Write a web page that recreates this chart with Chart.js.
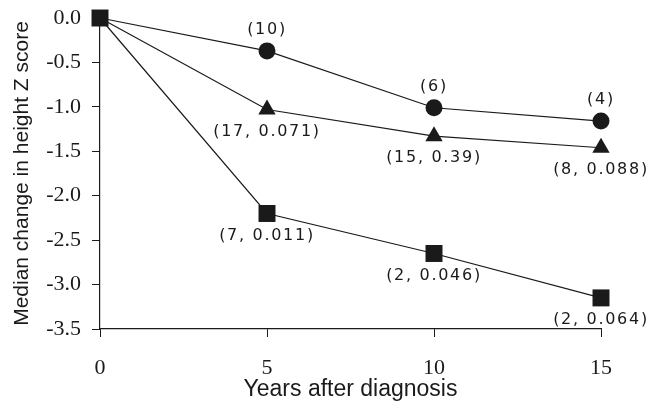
<!DOCTYPE html>
<html>
<head>
<meta charset="utf-8">
<script src="https://cdn.jsdelivr.net/npm/chart.js@4/dist/chart.umd.min.js"></script>
<style>
  html, body { margin: 0; padding: 0; background: #fff; }
  #wrap { width: 664px; height: 402px; }
</style>
</head>
<body>
<div id="wrap"><canvas id="c" width="664" height="402"></canvas></div>
<script>
// ---- data ----
const years = [0, 5, 10, 15];
const circleValues   = [0, -0.37, -1.01, -1.16];
const triangleValues = [0, -1.03, -1.33, -1.46];
const squareValues   = [0, -2.20, -2.65, -3.15];
const circleLabels   = ['', '(10)', '(6)', '(4)'];
const triangleLabels = ['', '(17, 0.071)', '(15, 0.39)', '(8, 0.088)'];
const squareLabels   = ['', '(7, 0.011)', '(2, 0.046)', '(2, 0.064)'];
const xTicks = [0, 5, 10, 15];
const yTicks = [0, -0.5, -1, -1.5, -2, -2.5, -3, -3.5];
const yTickLabels = ['0.0', '-0.5', '-1.0', '-1.5', '-2.0', '-2.5', '-3.0', '-3.5'];
const xTitle = 'Years after diagnosis';
const yTitle = 'Median change in height Z score';

const toPoints = vals => years.map((x, i) => ({ x: x, y: vals[i] }));

const pointLabelPlugin = {
  id: 'pointLabels',
  afterDatasetsDraw(chart) {
    const ctx = chart.ctx;
    ctx.save();
    ctx.font = '16px "DejaVu Sans"';
    ctx.fillStyle = '#1a1a1a';
    ctx.textAlign = 'center';
    ctx.textBaseline = 'middle';
    if ('letterSpacing' in ctx) ctx.letterSpacing = '1.7px';
    chart.data.datasets.forEach((ds, di) => {
      const meta = chart.getDatasetMeta(di);
      (ds.pointLabels || []).forEach((txt, i) => {
        if (!txt) return;
        const el = meta.data[i];
        ctx.fillText(txt, el.x, el.y + ds.labelOffset);
      });
    });
    ctx.restore();
  }
};

const common = {
  borderColor: '#1a1a1a',
  backgroundColor: '#1a1a1a',
  pointBackgroundColor: '#1a1a1a',
  pointBorderColor: '#1a1a1a',
  borderWidth: 1.2,
  pointBorderWidth: 0,
  showLine: true,
  fill: false,
  tension: 0,
  clip: false
};

const tickFont = { family: 'Liberation Serif', size: 22 };

new Chart(document.getElementById('c'), {
  type: 'scatter',
  data: {
    datasets: [
      Object.assign({}, common, {
        label: 'circle',
        data: toPoints(circleValues),
        pointStyle: 'circle',
        pointRadius: [0, 8.5, 8.5, 8.5],
        pointLabels: circleLabels,
        labelOffset: -21
      }),
      Object.assign({}, common, {
        label: 'triangle',
        data: toPoints(triangleValues),
        pointStyle: 'triangle',
        pointRadius: [0, 10, 10, 10],
        pointLabels: triangleLabels,
        labelOffset: 22
      }),
      Object.assign({}, common, {
        label: 'square',
        data: toPoints(squareValues),
        pointStyle: 'rect',
        pointRadius: 12,
        pointLabels: squareLabels,
        labelOffset: 22
      })
    ]
  },
  options: {
    responsive: false,
    animation: false,
    devicePixelRatio: 1,
    layout: { padding: { left: 0, top: 18, right: 63, bottom: 0 } },
    plugins: { legend: { display: false }, tooltip: { enabled: false } },
    scales: {
      x: {
        type: 'linear',
        min: 0, max: 15,
        afterBuildTicks: s => { s.ticks = xTicks.map(v => ({ value: v })); },
        afterFit: s => { s.height = 73; s.paddingLeft = 0; s.paddingRight = 0; },
        grid: { drawOnChartArea: false, drawTicks: true, tickLength: 8, color: '#1a1a1a', lineWidth: 1 },
        border: { display: true, color: '#1a1a1a', width: 1.2 },
        ticks: {
          color: '#1a1a1a',
          font: tickFont,
          padding: 18,
          maxRotation: 0,
          callback: v => String(v)
        },
        title: {
          display: true,
          text: xTitle,
          color: '#1a1a1a',
          font: { family: 'Liberation Sans', size: 23 },
          padding: { top: 0, bottom: -1 }
        }
      },
      y: {
        type: 'linear',
        min: -3.5, max: 0,
        afterBuildTicks: s => { s.ticks = yTicks.map(v => ({ value: v })); },
        afterFit: s => { s.width = 100; s.paddingTop = 0; s.paddingBottom = 0; },
        grid: { drawOnChartArea: false, drawTicks: true, tickLength: 8, color: '#1a1a1a', lineWidth: 1 },
        border: { display: true, color: '#1a1a1a', width: 1.2 },
        ticks: {
          color: '#1a1a1a',
          font: tickFont,
          padding: 11,
          callback: (v, i) => yTickLabels[yTicks.indexOf(v)]
        },
        title: {
          display: true,
          text: yTitle,
          color: '#1a1a1a',
          font: { family: 'Liberation Sans', size: 21 },
          padding: { top: 10, bottom: 0 }
        }
      }
    }
  },
  plugins: [pointLabelPlugin]
});
</script>
</body>
</html>
